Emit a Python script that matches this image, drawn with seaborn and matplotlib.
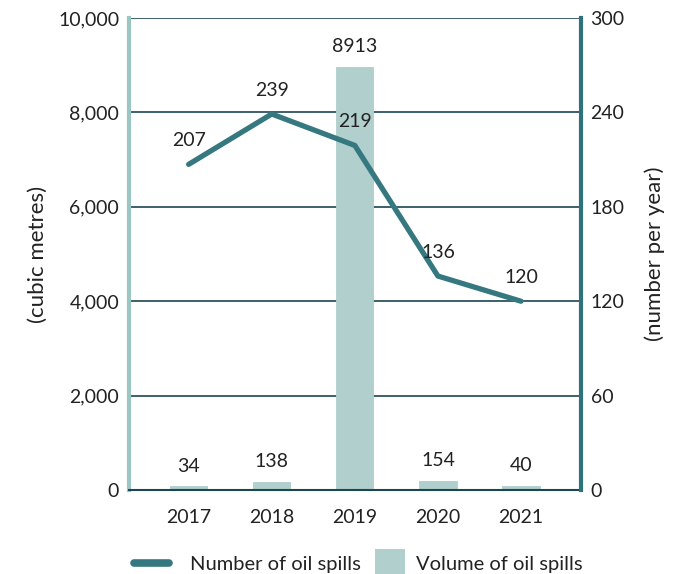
import numpy as np
import matplotlib
matplotlib.use("Agg")
import matplotlib.pyplot as plt
import seaborn as sns
from matplotlib.lines import Line2D
from matplotlib.patches import Patch, Rectangle
from matplotlib.legend_handler import HandlerPatch

years = ["2017", "2018", "2019", "2020", "2021"]
volume = [34, 138, 8913, 154, 40]          # cubic metres (left axis)
spills = [207, 239, 219, 136, 120]         # number per year (right axis)
left_ticks = [0, 2000, 4000, 6000, 8000, 10000]
right_ticks = [0, 60, 120, 180, 240, 300]

BAR = "#b0cfcd"
LINE = "#367880"
GRID = "#1c4654"
TXT = "#222222"

sns.set_theme(style="white")
plt.rcParams["font.family"] = ["Lato", "DejaVu Sans"]

fig = plt.figure(figsize=(6.89, 5.74), dpi=100)
ax = fig.add_axes([0.187, 0.1463, 0.656, 0.8223])
ax2 = ax.twinx()

sns.barplot(x=years, y=volume, ax=ax, color=BAR, width=0.4, saturation=1,
            edgecolor=BAR, linewidth=3.5, zorder=2)
ax.set_ylim(0, 10000)
ax.set_xlim(-0.72, 4.72)
ax.set_yticks(left_ticks)
ax.set_yticklabels([f"{v:,}" for v in left_ticks])
ax.yaxis.grid(True, color=GRID, linewidth=1.2, zorder=0)
ax.set_axisbelow(True)
ax.xaxis.grid(False)

for c in ax.containers:
    ax.bar_label(c, labels=[str(v) for v in volume], padding=10, fontsize=14, color=TXT)

xs = np.arange(len(years))
sns.lineplot(x=xs, y=spills, ax=ax2, color=LINE, linewidth=3.8, solid_capstyle="round")
ax2.set_ylim(0, 300)
ax2.set_yticks(right_ticks)
ax2.grid(False)
for x, v in zip(xs, spills):
    ax2.annotate(str(v), (x, v), xytext=(0, 17), textcoords="offset points",
                 ha="center", va="center", fontsize=14, color=TXT)

for a in (ax, ax2):
    a.tick_params(axis="both", length=0, labelsize=14, colors=TXT)
    for s in a.spines.values():
        s.set_visible(False)

ax.tick_params(axis="y", pad=7)
ax.tick_params(axis="x", pad=14)
ax2.tick_params(axis="y", pad=7)

ax.spines["left"].set_visible(True)
ax.spines["left"].set_color("#9cc6c4")
ax.spines["left"].set_linewidth(3)
ax.spines["bottom"].set_visible(True)
ax.spines["bottom"].set_color(GRID)
ax.spines["bottom"].set_linewidth(1.5)
ax.spines["bottom"].set_zorder(3)
ax2.spines["right"].set_visible(True)
ax2.spines["right"].set_color("#2e727a")
ax2.spines["right"].set_linewidth(3)

ax.set_ylabel("(cubic metres)", fontsize=16, color=TXT, labelpad=7)
ax2.set_ylabel("(number per year)", fontsize=16, color=TXT, rotation=90, labelpad=14)
ax.set_xlabel("")


def square(legend, orig_handle, xdescent, ydescent, width, height, fontsize):
    w, h = 21.6, 20.0
    return Rectangle((-xdescent + width + 6.5 - w, -ydescent + height / 2 - h / 2), w, h)


handles = [
    Line2D([0], [0], color=LINE, linewidth=5.5, solid_capstyle="round"),
    Patch(facecolor=BAR, edgecolor="none"),
]
fig.legend(handles, ["Number of oil spills", "Volume of oil spills"], loc="lower center",
           bbox_to_anchor=(0.52, -0.03), ncol=2, frameon=False, fontsize=14.5,
           handlelength=1.75, handletextpad=1.0, columnspacing=0.0, labelcolor=TXT,
           handler_map={Patch: HandlerPatch(patch_func=square)})

fig.savefig("out.png", dpi=100)
